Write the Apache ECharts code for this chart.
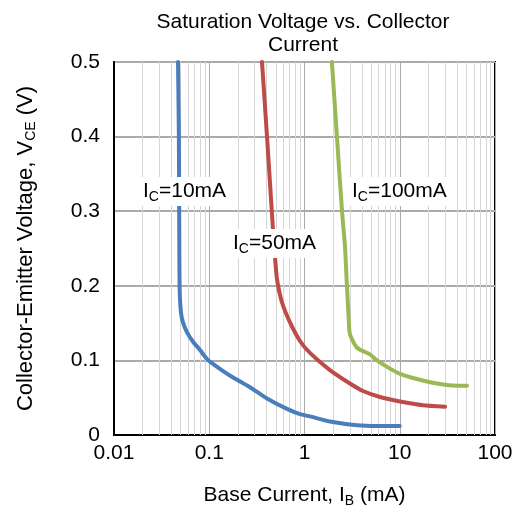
<!DOCTYPE html>
<html><head><meta charset="utf-8">
<script src="https://cdn.jsdelivr.net/npm/echarts@6/dist/echarts.min.js"></script>
<style>html,body{margin:0;padding:0;background:#fff}#c{width:521px;height:513px}</style>
</head><body><div id="c"></div>
<script>
const xTickLabels = ['0.01','0.1','1','10','100'];
const yTickLabels = ['0','0.1','0.2','0.3','0.4','0.5'];
const minorX = [0.02,0.03,0.04,0.05,0.06,0.07,0.08,0.09,0.2,0.3,0.4,0.5,0.6,0.7,0.8,0.9,2,3,4,5,6,7,8,9,20,30,40,50,60,70,80,90];
const ib10 = [0.047,0.048,0.0485,0.049,0.0505,0.053,0.0583,0.0676,0.080,0.096,0.139,0.178,0.268,0.404,0.655,0.897,1.14,1.85,3.56,5.77,10];
const vce10 = [0.5,0.4,0.25,0.19,0.164,0.151,0.138,0.125,0.114,0.101,0.086,0.077,0.064,0.049,0.035,0.028,0.025,0.018,0.013,0.012,0.012];
const ib50 = [0.358,0.404,0.467,0.490,0.514,0.580,0.704,0.897,1.14,1.85,3.0,4.11,6.2,10.1,17.5,29.9];
const vce50 = [0.5,0.4,0.275,0.239,0.209,0.178,0.151,0.126,0.110,0.087,0.069,0.059,0.051,0.045,0.040,0.038];
const ib100 = [1.94,2.19,2.48,2.66,2.79,2.9,3.0,3.56,4.87,5.77,7.9,10.1,15.2,24.6,39.9,50.8];
const vce100 = [0.5,0.4,0.299,0.253,0.2,0.16,0.135,0.117,0.108,0.100,0.089,0.082,0.075,0.069,0.066,0.066];
const seriesNames = ['10mA','50mA','100mA'];
const colors = ['#4a7ebb','#be4b48','#98b954'];

const zip = (a,b)=>a.map((v,i)=>[v,b[i]]);
const font = 'Liberation Sans, Arial, sans-serif';
const chart = echarts.init(document.getElementById('c'), null, {renderer:'canvas'});
const labelText = n => '{i|I}{s|C}{i|=' + n + '}';
const rich = {i:{fontSize:21,fontFamily:font,color:'#000'}, s:{fontSize:14,fontFamily:font,color:'#000',verticalAlign:'bottom',padding:[11,0,0,0]}};
const subRich = {s:{fontSize:14,fontFamily:font,color:'#000',padding:[11,0,0,0]}};
chart.setOption({
  animation:false,
  title:{text:'Saturation Voltage vs. Collector\nCurrent',left:298,top:6,textAlign:'center',
    textStyle:{fontFamily:font,fontSize:21,fontWeight:'normal',color:'#000',lineHeight:23}},
  grid:{left:114,right:26,top:62,bottom:71,show:true,borderColor:'#000',borderWidth:2,backgroundColor:'transparent'},
  xAxis:{type:'log',logBase:10,min:0.01,max:100,
    name:'Base Current, I{s|B} (mA)',nameLocation:'middle',nameGap:48,
    nameTextStyle:{fontFamily:font,fontSize:21,color:'#000',rich:subRich},
    axisLine:{show:true,lineStyle:{color:'#000',width:2}},axisTick:{show:false},
    axisLabel:{fontFamily:font,fontSize:21,color:'#000',margin:8,formatter:(v)=>{const k=Math.round(Math.log10(v))+2;return xTickLabels[k]||'';}},
    splitLine:{show:true,lineStyle:{color:'#aaaaaa',width:1}}},
  yAxis:{type:'value',min:0,max:0.5,interval:0.1,
    name:'Collector-Emitter Voltage, V{s|CE} (V)',nameLocation:'middle',nameGap:76,nameRotate:90,
    nameTextStyle:{fontFamily:font,fontSize:22,color:'#000',rich:subRich},
    axisLine:{show:true,lineStyle:{color:'#000',width:2}},axisTick:{show:false},
    axisLabel:{fontFamily:font,fontSize:21,color:'#000',margin:14,formatter:(v)=>yTickLabels[Math.round(v*10)]},
    splitLine:{show:true,lineStyle:{color:'#aaaaaa',width:2}}},
  series:[
    {type:'line',data:[],silent:true,z:1,markLine:{silent:true,z:1,symbol:'none',label:{show:false},
      lineStyle:{color:'#d6d6d6',width:1,type:'solid'},data:minorX.map(v=>({xAxis:v}))}},
    ...[[ib10,vce10],[ib50,vce50],[ib100,vce100]].map((d,i)=>({
      type:'line',name:seriesNames[i],data:zip(d[0],d[1]),smooth:0.2,showSymbol:false,z:6,
      lineStyle:{color:colors[i],width:4,join:'round',cap:'round'},itemStyle:{color:colors[i]}}))
  ],
  graphic:[
    {type:'text',left:139,top:177,z:10,style:{text:labelText('10mA'),rich,backgroundColor:'#fff',padding:[2,3,2,4]}},
    {type:'text',left:229,top:229,z:10,style:{text:labelText('50mA'),rich,backgroundColor:'#fff',padding:[2,3,2,4]}},
    {type:'text',left:348,top:177,z:10,style:{text:labelText('100mA'),rich,backgroundColor:'#fff',padding:[2,3,2,4]}}
  ]
});
</script></body></html>
